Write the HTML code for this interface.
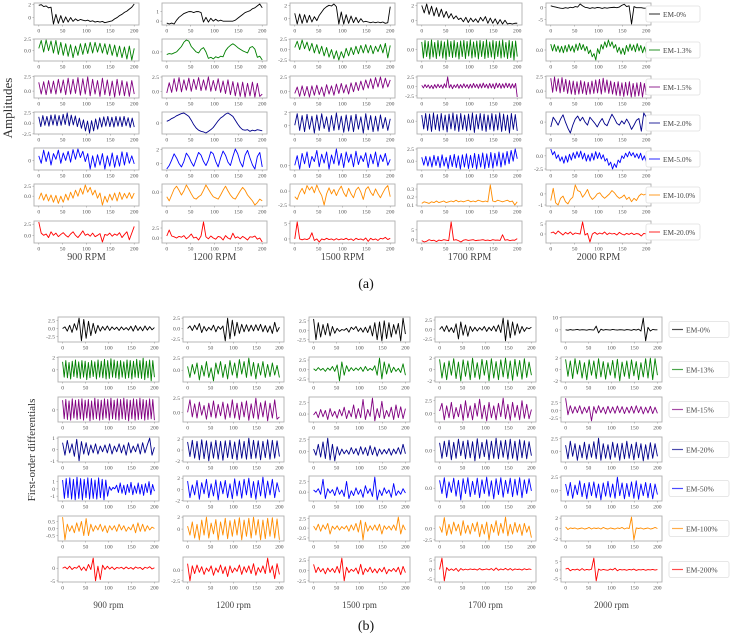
<!DOCTYPE html>
<html><head><meta charset="utf-8"><style>
html,body{margin:0;padding:0;background:#fff;}
svg{display:block;font-family:"Liberation Serif",serif;}
</style></head><body>
<svg id="fig" width="733" height="634" viewBox="0 0 733 634" xmlns="http://www.w3.org/2000/svg">
<text x="0" y="0" transform="translate(12,108) rotate(-90)" text-anchor="middle" font-size="13" fill="#333">Amplitudes</text>
<text x="0" y="0" transform="translate(35,450) rotate(-90)" text-anchor="middle" font-size="11" fill="#333">First-order differentials</text>
<text x="366" y="288" text-anchor="middle" font-size="14" fill="#111">(a)</text>
<text x="366" y="630" text-anchor="middle" font-size="14" fill="#111">(b)</text>
</svg>
<script>
const xTicks=[0,50,100,150,200];
const rpmLabelsA=["900 RPM","1200 RPM","1500 RPM","1700 RPM","2000 RPM"];
const rpmLabelsB=["900 rpm","1200 rpm","1500 rpm","1700 rpm","2000 rpm"];
const seriesNamesA=["EM-0%","EM-1.3%","EM-1.5%","EM-2.0%","EM-5.0%","EM-10.0%","EM-20.0%"];
const seriesNamesB=["EM-0%","EM-13%","EM-15%","EM-20%","EM-50%","EM-100%","EM-200%"];
const rowColors=["#000000","#008000","#800080","#00008b","#0000ff","#ff8c00","#ff0000"];

// ---- Panel (a) amplitudes, one array per subplot ----
const ampEM0=[
[1.9,2.0,1.7,1.8,1.5,1.6,-1.0,0.5,-0.9,0.3,-0.8,0.1,-0.7,0.0,-0.6,-0.2,-0.5,-0.3,-0.4,-0.5,-0.4,-0.6,-0.5,-0.7,-0.6,-0.7,-0.6,-0.8,-0.7,-0.6,-0.5,-0.2,0.0,0.3,0.5,0.8,1.0,1.3,1.6,2.1],
[-0.2,-0.3,-0.2,-0.3,0.1,0.4,0.6,0.8,0.9,1.0,1.0,0.9,1.0,1.0,0.9,-0.1,0.4,-0.1,0.3,0.0,0.2,0.0,0.1,0.0,0.0,0.0,0.0,0.0,0.1,0.3,0.5,0.7,0.9,1.0,1.1,1.3,1.4,1.6,1.8,1.4],
[0.8,-0.8,0.7,-0.7,0.6,-0.6,0.5,-0.5,0.3,-0.3,0.5,1.0,1.5,1.8,2.0,1.9,2.2,1.8,-0.8,1.0,-0.8,0.6,-0.7,0.4,-0.6,0.2,-0.6,0.0,-0.5,-0.4,-0.5,-0.6,-0.5,-0.6,-0.5,-0.6,-0.5,-0.7,-0.6,1.8],
[2.0,1.0,2.2,0.8,1.9,0.6,1.7,0.5,1.5,0.4,1.2,0.3,0.9,0.2,0.6,0.1,0.3,-0.2,0.4,-0.3,0.3,-0.2,0.2,-0.3,0.4,-0.1,0.5,-0.4,0.3,-0.4,0.2,-0.5,0.1,-0.5,0.0,-0.5,-0.4,-0.5,-0.4,-0.4],
[0.8,0.5,0.3,0.0,-0.2,-0.3,0.0,-0.2,0.2,0.0,0.5,0.3,1.6,0.8,0.2,0.0,-0.3,0.0,-0.2,0.1,0.0,-0.3,0.0,-0.2,0.0,0.1,0.2,0.0,0.3,1.0,1.5,0.5,0.8,-7.0,0.5,0.0,0.0,0.0,-0.2,-0.2]];
const ampEM13=[
[0.5,2.2,-0.3,2.3,0.0,2.1,-0.5,2.2,-0.8,1.8,-1.0,1.5,-1.2,1.3,-1.5,1.0,-1.0,1.5,-0.8,1.6,-0.6,1.8,-0.5,1.8,-0.3,1.6,-0.5,1.5,-0.8,1.4,-1.0,1.2,-1.3,1.0,-1.5,0.8,-1.8,1.0,-2.0,0.5],
[-0.5,-0.3,-0.4,-0.2,0.0,0.5,1.0,1.8,2.2,2.0,1.0,0.5,0.0,-0.2,0.5,0.8,0.0,-1.2,-1.0,-1.3,-0.9,-1.1,-0.8,-0.9,0.2,0.8,1.2,1.5,1.2,0.8,0.5,0.2,0.0,-0.2,0.8,1.0,0.5,-1.0,-0.8,-1.5],
[0.5,2.0,0.0,2.3,0.2,1.8,-0.3,1.5,-0.8,1.2,-1.0,0.8,-1.5,0.5,-1.8,0.0,-2.2,-0.3,-2.5,-0.5,-2.0,0.3,-1.5,0.5,-1.2,0.8,-1.0,1.0,-0.8,1.2,-0.8,1.0,-1.0,0.8,-0.5,1.2,-0.8,1.5,-2.0,1.0],
[1.5,-1.8,1.8,-1.5,1.6,-2.0,1.9,-1.6,1.4,-1.9,1.8,-1.4,1.7,-1.8,1.5,-2.1,1.9,-1.5,1.6,-1.7,1.8,-1.6,1.4,-2.0,1.7,-1.5,1.8,-1.9,1.6,-1.4,1.9,-1.8,1.5,-1.6,1.7,-2.0,1.8,-1.5,1.6,-1.9,1.9,-1.7,1.5,-1.6,1.8,-2.0,1.6,-1.5,1.7,-1.8,1.9,-1.6,1.4,-1.9,1.8,-1.7,1.6,-2.2,1.7,-1.5],
[1.3,-0.2,1.2,-0.3,0.9,-0.5,0.8,-0.6,1.0,-0.4,1.2,-0.2,0.9,-0.5,1.3,-0.1,1.5,0.1,1.2,-0.2,0.8,-0.8,0.0,-1.5,-0.8,-2.2,0.3,-0.8,1.2,0.2,1.8,0.6,2.2,0.8,1.8,0.4,1.2,-0.5,0.6,-0.9,0.4,-1.0,1.0,-0.3,1.3,-0.1,1.1,-0.4,1.4,-0.2,1.0,-0.6,0.7,-0.8]];
const ampEM15=[
[1.5,-0.5,1.6,-0.6,1.8,-0.4,1.7,-0.5,2.0,-0.3,1.9,-0.6,2.2,-0.5,2.0,-0.4,2.3,-0.7,2.1,-0.5,2.4,-0.8,2.0,-0.5,1.8,-0.9,2.2,-0.6,1.9,-0.8,1.7,-1.0,2.0,-0.7,1.8,-0.8,1.6,-0.9,1.8,-0.5],
[-0.3,1.5,-0.2,2.2,0.0,2.4,-0.1,2.0,0.2,2.3,0.0,2.1,0.3,2.4,0.1,2.0,0.2,2.5,0.0,1.9,0.1,2.2,-0.2,1.8,-0.4,2.0,-0.6,1.7,-0.8,1.5,-0.9,1.6,-1.0,1.4,-0.8,1.6,-1.0,1.4,-0.9,-0.5],
[-0.3,0.8,-0.8,1.0,-0.7,0.9,-0.9,1.0,-0.6,1.1,-0.5,0.8,-0.8,1.2,-0.4,1.0,-0.6,1.3,-0.3,1.4,-0.2,1.2,-0.4,1.5,0.0,1.6,0.2,1.8,0.3,2.0,0.6,2.2,0.5,2.4,0.8,2.5,0.6,2.3,0.8,2.0],
[0.3,-0.4,0.5,-0.3,0.4,-0.5,0.3,-0.6,0.5,-0.4,0.6,-0.3,0.4,-0.5,0.7,-0.3,2.5,-0.4,0.5,-0.6,0.4,-0.3,0.6,-0.5,0.5,-0.4,0.7,-0.3,0.5,-0.5,0.6,-0.4,0.8,-0.3,0.6,-0.5,0.7,-0.4,0.9,-0.3,0.6,-0.5,0.8,-0.4,0.7,-0.6,0.9,-0.3,0.8,-0.5,0.7,-0.4,0.9,-0.3,0.8,-0.5,0.7,-0.4,0.8,-2.8],
[2.2,-0.2,2.4,0.0,2.1,-0.3,2.3,-0.1,2.0,-0.4,1.8,-0.5,1.7,-0.6,1.6,-0.5,1.8,-0.4,1.6,-0.6,1.5,-0.5,1.7,-0.4,1.9,-0.3,2.0,-0.5,2.2,-0.2,1.9,-0.4,1.7,-0.5,1.5,-0.7,1.6,-0.8,1.4,-0.9,1.5,-0.7,1.6,-1.0,1.3,-0.9,1.4,-0.8,1.5,-1.0,1.3,-0.6]];
const ampEM20=[
[1.5,-0.8,1.8,-0.5,1.6,-0.7,1.9,-0.4,2.0,-0.6,1.8,-0.5,2.1,-0.3,2.4,-0.6,1.9,-0.4,1.7,-0.8,1.2,-1.2,0.8,-1.8,0.5,-2.3,0.6,-1.8,1.0,-1.4,1.3,-0.9,1.5,-0.7,1.6,-0.8,1.4,-0.9,1.6,-0.7,1.5,-0.8,1.6,-0.6,1.3,-1.0,1.2,-0.9],
[0.3,0.5,0.8,1.0,1.3,1.5,1.7,1.8,1.5,1.2,0.5,-0.3,-0.9,-1.3,-1.5,-1.6,-1.8,-1.5,-1.2,-0.8,-0.2,0.4,0.9,1.2,1.6,1.8,1.5,1.2,0.5,-0.2,-0.8,-1.2,-1.3,-1.2,-1.5,-1.3,-1.4,-1.2,-1.3,-1.4],
[0.0,1.8,-0.8,1.5,-1.0,1.7,-0.6,1.4,-1.2,1.6,-0.8,1.8,-0.5,1.3,-1.0,1.5,-0.8,1.9,-0.7,1.4,-1.1,1.6,-0.9,1.5,-1.0,1.7,-0.6,1.3,-1.2,1.8,-0.7,1.5,-1.0,1.4,-0.9,1.6,-0.5,1.2,-0.8,1.0],
[1.2,-1.5,1.5,-1.8,1.4,-2.0,1.6,-1.6,1.3,-1.9,1.5,-1.7,1.2,-2.1,1.4,-1.5,1.6,-1.8,1.3,-2.0,1.5,-1.6,1.2,-1.9,1.4,-1.7,1.6,-2.2,1.3,-1.5,1.5,-1.8,1.4,-2.0,1.2,-1.6,1.5,-1.9,1.3,-1.7,1.6,-2.0,1.4,-1.8,1.2,-2.3,1.5,-1.6,1.3,-1.9],
[-0.8,0.8,0.2,-0.5,0.5,1.2,0.0,-1.0,-1.8,-0.5,0.5,1.0,0.2,0.8,0.0,-0.5,0.8,0.3,-0.2,-0.8,0.0,0.6,-0.3,-0.6,0.4,1.3,0.6,-0.2,-0.5,0.2,-0.3,0.5,-0.2,-1.2,-0.5,0.3,0.6,-1.5,1.5,0.8]];
const ampEM50=[
[0.8,-0.5,1.8,-0.2,1.5,-0.8,1.2,0.2,1.8,-0.5,1.3,0.0,1.6,-0.3,1.9,0.2,2.0,0.5,1.6,-0.2,1.2,-1.5,0.8,-1.2,1.0,-0.8,1.2,-1.5,0.8,-1.0,1.3,-1.2,0.9,-1.0,1.5,-0.8,1.4,-0.5,0.8,-0.6],
[-0.8,-0.3,0.5,1.4,0.8,0.0,-0.5,0.3,1.5,1.0,0.2,-0.4,0.6,1.6,1.2,0.3,-0.3,0.5,1.7,1.4,0.3,-0.5,0.8,1.8,1.2,0.2,-0.3,1.0,2.1,1.4,0.2,-0.5,1.2,1.9,0.8,-0.2,-0.8,1.0,1.6,-0.5],
[0.0,1.3,-0.5,1.6,0.2,1.8,-0.3,1.2,0.5,2.0,-0.2,1.5,0.3,1.8,-0.5,1.4,0.2,2.2,0.0,1.6,-0.3,1.8,0.4,1.5,-0.2,1.9,0.1,1.3,0.5,1.7,-0.3,1.5,0.2,1.8,-0.2,1.4,0.5,1.6,0.0,0.8],
[0.8,-0.8,1.0,-1.0,0.9,-1.2,1.2,-0.9,1.0,-1.3,1.3,-1.0,0.8,-1.5,1.2,-1.1,1.4,-1.3,1.1,-1.6,1.3,-1.2,1.5,-1.5,1.2,-1.3,1.6,-1.6,1.4,-1.2,1.7,-1.5,1.5,-1.3,1.8,-1.4,1.6,-1.0,1.9,-1.2,1.7,-0.8,2.0,-0.5,2.2,0.0,2.5,0.5],
[1.3,0.2,0.8,-0.5,0.2,-1.0,-0.2,-1.4,0.0,-1.2,0.3,-0.8,0.6,-0.5,0.8,-0.3,0.9,-0.6,0.5,-1.0,0.2,-1.0,0.5,-0.8,0.8,-0.5,0.6,-0.6,0.2,-1.0,-0.5,-1.8,-1.2,-2.5,-1.5,-2.2,-0.8,-1.3,0.0,-0.5,0.5,-0.2,0.8,0.0,0.6,-0.3,0.4,-0.5,0.5,-0.8,0.0,-1.2]];
const ampEM100=[
[-0.8,0.8,-1.0,0.5,-1.2,0.3,-1.5,0.2,-1.8,0.0,-1.5,0.5,-1.0,1.0,-0.5,1.5,0.0,2.0,0.5,2.8,1.0,2.2,0.3,1.5,-0.5,0.8,-2.2,0.0,-1.5,0.5,-1.0,0.8,-1.2,1.0,-0.8,0.7,-0.5,0.9,-0.6,0.8],
[-0.8,-1.5,-0.5,0.5,1.0,0.3,-0.5,0.2,1.2,0.5,-0.3,-1.0,-1.2,-0.8,-0.5,0.3,1.2,0.5,-0.2,-0.8,-1.0,-1.2,-0.5,0.3,1.0,0.2,-0.5,-1.0,-1.2,-0.5,0.2,0.8,0.3,-0.5,-1.0,-1.5,-2.2,-1.8,-1.2,-1.5],
[-1.0,-1.5,-0.3,0.5,-0.5,1.0,0.2,0.8,-0.3,1.1,0.0,-0.8,-2.5,-0.5,0.6,-0.5,0.3,-0.8,0.2,0.9,-0.3,-1.0,0.5,-0.5,-1.2,0.2,0.7,-0.2,-1.5,0.3,0.8,-0.2,-0.8,0.4,-0.5,-1.2,-0.3,0.5,1.0,-1.0],
[0.12,0.14,0.13,0.12,0.14,0.13,0.15,0.13,0.14,0.15,0.13,0.14,0.15,0.14,0.16,0.14,0.15,0.14,0.15,0.16,0.14,0.15,0.14,0.16,0.15,0.14,0.15,0.14,0.35,0.15,0.14,0.16,0.15,0.14,0.15,0.16,0.14,0.15,0.10,0.14],
[-0.6,0.5,-0.8,-1.0,-0.4,-0.2,-0.7,-0.9,-0.5,-0.3,0.8,0.3,0.2,-0.3,0.0,0.4,-0.2,-0.5,-0.3,0.0,0.1,-0.2,-0.4,-0.2,0.0,0.3,0.1,-0.2,-0.4,-0.3,-0.1,-0.5,-0.3,-0.7,-0.4,-0.6,-0.2,0.0,-0.1,0.0]];
const ampEM200=[
[3.0,0.5,0.0,0.3,-0.5,0.8,0.0,0.5,-0.3,0.2,0.6,0.0,-0.4,0.3,0.8,0.0,-0.5,0.2,1.0,0.0,0.3,-0.2,0.5,-0.3,0.0,0.4,-1.5,0.2,0.0,0.5,-0.2,0.3,0.0,0.6,-0.5,0.2,0.8,-1.0,0.5,2.0],
[0.5,2.0,0.5,0.3,0.0,0.4,0.2,0.6,-0.2,0.3,1.0,0.0,0.2,-0.5,0.5,4.0,0.3,-0.2,0.5,0.0,-0.3,0.4,0.2,-0.5,0.6,0.0,-0.3,1.2,0.0,0.3,-0.2,0.4,0.0,-0.5,0.3,0.2,0.5,-0.3,0.0,-1.0],
[0.0,5.5,0.0,-0.3,0.0,-0.2,0.2,2.0,-0.5,0.0,-1.0,0.0,-0.3,0.2,-0.2,0.0,-0.4,0.1,-0.3,0.0,-0.2,0.2,-0.3,0.0,-0.5,0.2,-0.2,0.0,-0.4,0.3,-0.8,0.2,-0.3,0.0,-0.5,0.2,0.0,0.5,-0.2,0.2],
[-0.5,-1.2,-0.8,0.0,-0.5,-0.3,-1.0,-0.2,-0.5,0.0,-0.3,-0.5,9.0,-0.3,0.0,-0.5,-1.2,-0.3,0.0,-0.4,-0.2,0.0,-0.5,-0.3,-0.2,0.0,-0.4,-0.2,-0.5,0.0,-0.3,-0.2,-0.4,2.5,-0.3,0.0,-0.5,-0.2,-0.3,0.5],
[0.5,1.0,0.0,1.5,0.5,-0.5,0.8,0.0,1.0,-0.3,0.5,0.2,0.0,6.0,-0.5,0.3,-4.0,0.0,0.8,-0.2,0.5,0.0,1.0,-0.3,0.5,0.0,0.3,-0.5,0.8,0.0,-0.5,0.3,-0.2,0.5,-0.3,0.2,0.0,-1.0,0.3,0.0]];
const ampTicks=[
[[0,2],[0,1],[0,2],[0,2],[0,-5]],
[[2.5,0],[2.5,0],[2.5,0,-2.5],[0,-2.5],[2.5,0,-2.5]],
[[2.5,0],[2.5,0],[2.5,0],[2.5,0,-2.5],[2.5,0]],
[[2.5,0,-2.5],[2,0,-2],[2,0,-2],[0,-2.5],[0,-2]],
[[0,-2],[2,0],[2.5,0],[2.5,0],[0,-2.5]],
[[2.5,0,-2.5],[0,-2.5],[0,-2.5],[0.3,0.2,0.1],[0,-1]],
[[2.5,0],[2.5,0,-2.5],[5,0],[5,0],[5,0,-5]]];

// ---- Panel (b) first-order differentials ----
const difEM0=[
[0.0,0.5,-0.8,1.0,-1.2,1.5,-0.5,3.2,-3.8,2.8,-3.0,2.2,-2.2,1.6,-1.5,1.0,-0.8,0.6,-0.5,0.8,-0.6,0.5,-0.3,0.4,-0.6,0.5,-0.4,0.3,-0.5,0.7,-0.8,0.9,-0.6,0.5,-0.7,0.8,-0.5,0.6,-0.4,0.3],
[0.0,0.6,-0.5,0.8,-0.3,1.2,-1.0,0.5,-0.6,0.3,-0.4,0.8,-0.8,0.5,-0.2,0.6,-3.0,2.5,-2.5,2.0,-1.8,1.5,-1.2,1.0,-0.8,0.9,-0.7,0.8,-0.6,0.9,-0.5,1.0,-0.8,0.7,-0.9,0.6,-1.2,1.5,-0.8,0.3],
[3.0,-2.5,2.0,-1.8,1.5,-1.2,1.8,-1.5,1.0,-0.8,0.5,-0.3,0.2,0.0,0.5,-0.5,0.8,0.2,1.0,-0.3,0.6,-0.5,0.8,-0.6,1.2,-1.5,2.0,-2.5,2.2,-2.8,2.5,-2.2,2.0,-1.8,1.5,-1.0,1.8,-2.8,3.2,-1.0],
[0.0,0.8,-0.5,1.0,-0.6,0.5,-0.8,1.5,-2.5,2.0,-1.5,1.2,-1.8,0.8,-0.5,0.6,-0.4,0.5,-0.2,0.8,-0.5,0.6,-0.3,0.9,-0.5,1.2,-0.8,3.0,-3.0,2.5,-2.2,2.0,-1.5,1.5,-1.0,0.8,-0.5,0.5,0.2,0.6],
[0.0,-0.3,0.2,-0.2,0.0,0.3,-0.2,0.1,0.0,-0.3,0.2,0.0,-0.2,3.0,-2.5,0.5,-0.3,0.2,0.0,-0.2,0.3,0.0,-0.2,0.1,0.0,-0.3,0.2,0.0,-0.4,0.3,-0.2,0.5,-1.0,9.5,-9.0,2.0,-1.0,0.3,0.0,0.0]];
const difEM13=[
[1.3,-1.2,1.5,-1.3,1.2,-1.5,1.4,-1.1,1.6,-1.3,1.3,-1.4,1.5,-1.2,1.4,-1.6,1.2,-1.3,1.5,-1.1,1.3,-1.5,1.6,-1.2,1.4,-1.3,1.7,-1.5,1.5,-1.4,1.8,-1.2,1.6,-1.3,1.4,-1.5,1.5,-1.2,1.3,-1.4,1.6,-1.3,1.5,-1.5,1.4,-1.2,1.7,-1.3,1.5,-1.4,1.9,-1.6,1.4,-1.3,1.6,-1.8,1.5,-1.2],
[0.8,-1.5,1.2,-0.8,1.5,-2.0,1.0,-1.2,1.8,-1.5,0.5,-2.2,1.5,-0.8,1.8,-1.5,1.2,-1.8,2.0,-1.0,1.5,-1.6,2.2,-0.8,1.8,-1.5,2.5,-1.2,1.6,-1.8,1.4,-1.0,1.8,-1.5,1.2,-1.3,1.5,-1.0,1.0,-1.5],
[0.2,-0.3,0.5,-0.2,0.3,-0.5,0.4,-0.2,0.8,-0.5,1.2,-3.0,2.0,-1.5,1.0,-0.5,0.5,-0.3,0.4,-0.2,0.6,-0.5,0.8,-0.3,0.3,-0.2,1.0,-1.5,3.0,-2.5,2.0,-1.2,1.5,-0.8,0.6,-0.5,0.3,-0.8,1.5,-1.5],
[1.8,-1.5,1.2,-1.8,1.5,-1.0,1.9,-1.6,1.3,-2.0,1.7,-1.2,1.5,-1.8,2.0,-1.4,1.2,-1.7,1.8,-1.0,1.6,-2.0,1.9,-1.5,1.4,-1.8,1.7,-1.3,2.0,-1.6,1.5,-1.9,1.8,-1.2,1.6,-1.7,1.9,-1.4,1.3,-1.0],
[1.8,-1.2,1.5,-1.6,1.9,-0.8,1.6,-1.5,1.2,-1.8,1.7,-1.0,1.5,-1.6,1.9,-1.3,1.4,-1.7,1.2,-1.0,1.6,-1.5,1.8,-2.0,1.3,-1.2,1.5,-1.6,1.7,-1.1,1.4,-1.8,1.2,-1.3,1.9,-1.5,2.0,-1.8,1.9,-1.0]];
const difEM15=[
[1.4,-1.3,1.5,-1.4,1.3,-1.5,1.6,-1.2,1.4,-1.4,1.5,-1.3,1.6,-1.5,1.4,-1.2,1.5,-1.6,1.3,-1.4,1.7,-1.3,1.5,-1.5,1.4,-1.4,1.6,-1.2,1.5,-1.5,1.7,-1.3,1.4,-1.4,1.6,-1.5,1.5,-1.3,1.7,-1.4,1.5,-1.6,1.4,-1.3,1.6,-1.5,1.5,-1.4,1.7,-1.3,1.5,-1.5,1.4,-1.4,1.6,-1.3,1.5,-1.5],
[0.0,2.2,-0.8,1.5,-1.0,1.8,-0.5,1.2,-1.2,1.6,-0.8,2.0,-1.0,1.4,-0.6,1.8,-1.2,1.5,-0.9,2.2,-1.0,1.6,-1.3,1.8,-0.8,2.0,-1.4,1.5,-1.0,2.5,-1.2,1.7,-0.8,2.0,-1.5,1.6,-1.0,2.2,-1.2,-0.8],
[-0.2,0.5,-0.8,1.0,-0.6,0.8,-1.2,1.2,-0.5,0.6,-0.9,1.0,-0.4,1.5,-1.0,0.8,-0.6,2.0,-1.0,1.2,-0.8,3.2,-1.2,1.0,-0.5,3.5,-1.5,1.2,-0.8,2.8,-1.0,0.8,-0.6,1.5,-1.2,2.0,-0.8,1.6,-1.0,1.2],
[0.5,2.0,-1.2,1.5,-0.8,2.2,-1.0,1.2,-0.6,1.8,-1.3,2.5,-0.8,1.5,-1.2,2.0,-0.5,2.8,-1.0,1.6,-1.4,2.2,-0.8,1.5,-1.2,2.0,-0.6,3.0,-1.0,1.8,-1.3,2.2,-0.7,1.6,-1.2,2.5,-0.9,1.8,-1.0,0.8],
[4.0,-1.5,1.5,-1.0,1.2,-0.8,1.5,-1.2,1.0,-0.8,1.3,-3.5,1.2,-1.0,1.5,-0.8,1.0,-1.2,1.3,-0.9,1.1,-1.0,1.4,-0.8,1.2,-1.1,1.0,-0.9,1.3,-1.0,1.5,-0.8,1.2,-1.2,1.0,-0.9,1.3,-1.1,1.0,-1.0]];
const difEM20=[
[0.6,-0.5,0.8,-0.3,0.5,-0.6,0.9,-1.0,0.7,-0.4,0.6,-0.5,0.4,-0.3,0.5,-0.4,0.3,-0.2,0.4,-0.3,0.5,-0.4,0.3,-0.2,0.5,-0.3,0.4,-0.5,0.6,-0.3,0.3,-0.2,0.5,-0.4,0.6,-0.3,0.4,1.0,-0.5,0.2],
[1.5,-1.2,1.8,-1.5,1.6,-1.8,1.9,-1.6,1.7,-2.0,1.5,-1.5,1.8,-1.7,1.6,-1.9,1.7,-1.4,1.8,-1.6,1.5,-1.8,1.9,-1.5,1.6,-1.7,2.2,-1.6,1.8,-1.5,1.7,-1.8,1.6,-1.4,1.9,-1.7,1.8,-1.5,1.7,-1.2],
[0.5,-0.8,1.5,-1.2,2.0,-1.5,2.8,-1.8,1.5,-2.0,1.0,-0.8,0.5,-0.5,0.3,-0.6,0.8,-0.5,0.6,-0.8,1.0,-0.6,0.8,-0.9,1.2,-0.7,0.9,-1.0,0.5,-0.6,0.4,-0.5,0.6,-0.8,0.5,-0.5,0.8,-0.6,1.5,-0.5],
[1.5,-1.5,1.8,-1.2,2.0,-1.8,1.6,-1.5,2.2,-1.0,1.8,-1.6,2.0,-1.4,1.7,-2.0,2.3,-1.5,1.6,-1.2,2.1,-1.8,1.8,-1.5,2.4,-1.6,1.9,-1.3,2.0,-1.7,2.2,-1.5,1.8,-1.9,2.1,-1.4,1.9,-1.6,1.7,-1.0],
[1.2,-1.5,2.0,-1.0,1.5,-1.8,1.2,-1.3,1.8,-1.6,1.4,-1.2,1.9,-1.5,2.6,-1.8,1.5,-1.4,1.3,-1.6,1.8,-1.2,1.5,-1.8,1.6,-1.5,2.0,-1.4,1.4,-1.7,1.8,-1.3,1.5,-1.9,1.3,-1.6,1.7,-1.4,1.5,-1.0]];
const difEM50=[
[1.2,-1.3,1.4,-1.2,1.5,-1.4,1.3,-1.5,1.6,-1.3,1.4,-1.5,1.3,-1.2,1.5,-1.4,1.4,-1.3,1.2,-1.4,1.5,-1.2,1.3,-1.5,1.2,-1.0,0.3,-0.2,0.2,0.0,0.5,-0.5,0.8,-0.6,0.5,-0.8,0.6,-0.5,0.9,-0.8,0.4,-0.6,0.8,-0.7,0.6,-0.9,0.7,-0.5,1.0,-0.8,0.6,-0.3],
[1.5,-1.5,0.8,-1.0,1.6,-1.8,1.2,-0.8,1.8,-1.5,1.0,-1.2,1.7,-1.9,1.4,-0.8,1.6,-1.5,1.0,-1.7,1.9,-1.2,1.5,-1.6,1.8,-1.0,2.0,-1.5,1.4,-1.8,1.6,-1.2,2.2,-1.6,1.5,-1.0,1.8,-1.5,1.2,-0.5],
[0.5,0.0,0.8,-0.5,3.0,-1.5,0.8,-0.2,0.6,-0.8,1.2,-0.5,0.5,-1.0,2.5,-1.5,0.3,-0.8,1.0,-0.5,0.6,-1.2,1.5,-0.3,0.8,-1.0,3.5,-1.8,0.5,-0.8,1.0,-0.3,0.5,-1.2,2.0,-0.8,0.3,-0.5,0.8,-0.2],
[1.5,-1.0,2.0,-1.8,1.2,-0.8,1.9,-1.5,1.5,-2.2,1.8,-1.0,2.0,-1.6,1.3,-1.2,1.9,-1.8,1.6,-1.0,2.1,-1.5,1.4,-2.0,1.8,-1.2,2.0,-1.7,1.5,-1.0,1.9,-1.6,1.7,-1.3,2.0,-1.8,1.6,-1.0,1.8,-0.5],
[1.2,-1.0,1.5,-1.5,1.0,-0.8,1.8,-1.2,1.3,-1.6,1.5,-1.0,1.6,-1.4,1.2,-1.8,1.4,-1.1,1.7,-1.3,1.2,-1.5,2.5,-1.0,1.4,-1.6,1.3,-1.2,1.6,-1.5,1.8,-1.7,1.2,-1.0,1.5,-1.4,1.3,-1.6,1.2,-0.8]];
const difEM100=[
[0.8,-0.8,0.3,-0.2,0.2,-0.3,0.4,-0.2,0.5,-0.5,0.7,-0.5,0.3,-0.2,0.2,-0.1,0.3,-0.2,0.2,-0.3,0.2,-0.1,0.2,-0.2,0.3,-0.1,0.2,-0.2,0.1,-0.1,0.3,-0.3,0.4,-0.2,0.3,-0.2,0.2,-0.1,0.1,0.0],
[0.5,-1.0,1.2,-1.5,0.8,-1.8,1.5,-1.0,2.0,-1.5,1.0,-0.8,1.6,-1.8,1.2,-1.0,1.8,-1.6,1.4,-1.2,1.6,-1.0,1.9,-1.8,1.5,-1.2,1.8,-1.5,2.0,-1.0,1.6,-1.8,1.5,-1.6,1.8,-1.2,1.9,-1.5,1.7,-1.8],
[0.5,-0.5,1.0,-0.8,0.8,-0.3,1.2,-1.5,0.5,-0.3,0.6,-0.5,0.4,-0.2,0.6,-0.8,0.8,-0.5,1.2,-1.0,2.0,-3.0,1.5,-0.8,0.6,-0.5,0.8,-0.6,1.0,-1.5,0.6,-0.3,0.5,-0.5,0.8,-0.6,2.8,-1.5,0.8,-0.5],
[0.5,-0.8,2.5,-1.5,1.0,-1.2,1.5,-0.5,1.0,-1.5,1.8,-1.0,0.8,-1.2,1.2,-0.6,1.5,-1.8,1.0,-1.2,1.5,-2.5,1.0,-0.8,1.8,-1.5,1.2,-1.0,2.6,-1.6,1.0,-1.2,1.4,-0.8,1.0,-1.5,1.2,-0.8,0.6,-2.0],
[0.3,-0.2,0.1,0.0,0.1,-0.1,0.0,0.1,-0.1,0.0,0.2,-0.1,0.1,0.0,0.1,-0.1,0.2,0.0,-0.1,0.1,0.0,-0.1,0.1,0.0,0.2,-0.1,0.1,0.0,2.2,-2.2,0.1,0.0,0.1,-0.1,0.0,0.1,-0.1,0.0,0.2,0.0]];
const difEM200=[
[0.0,0.5,-0.3,0.8,-0.5,0.3,0.0,1.0,-0.8,0.5,-1.0,1.5,-0.5,4.0,-5.0,0.8,-4.5,1.2,-0.5,0.8,-0.3,0.5,-0.5,0.3,0.0,0.4,-0.3,0.5,-0.2,0.3,-0.4,0.5,0.0,0.3,-0.5,0.4,0.0,0.6,-0.3,0.2],
[1.5,-2.5,1.0,-0.8,1.2,-0.5,0.8,-1.0,0.5,-0.3,1.0,-1.2,0.5,-0.5,1.2,-0.8,0.8,-1.5,1.0,-0.6,0.5,-0.3,1.2,-1.0,0.8,-0.5,1.0,-0.8,1.5,-1.2,0.6,-0.5,1.0,-0.8,2.8,-0.6,1.0,-2.0,1.5,-1.0],
[1.5,-0.5,0.8,-0.3,0.5,-0.8,0.6,-0.3,0.5,-0.5,1.0,-0.6,3.0,-2.5,0.8,-0.5,0.3,-0.2,0.6,-0.8,1.5,-1.0,0.5,-0.3,0.8,-0.5,0.4,-0.6,0.5,-0.3,0.8,-0.8,0.3,-0.2,0.5,-0.3,0.8,-1.0,1.0,-0.5],
[0.0,6.0,-6.0,1.0,-0.5,0.3,-0.5,0.6,-1.0,0.5,-0.3,0.2,-0.2,0.3,0.0,0.2,-0.3,0.5,-0.2,0.0,0.3,-0.2,0.5,-0.5,0.8,-0.4,0.3,-0.2,0.6,-0.3,0.5,-0.4,0.3,0.0,0.2,-0.3,0.4,-0.1,0.3,0.0],
[0.5,1.0,-0.5,0.3,0.0,0.5,-0.3,0.8,-0.2,0.3,0.0,0.4,7.0,-6.5,0.5,-0.2,0.3,0.0,-0.2,0.5,0.0,1.0,-0.5,0.3,0.0,0.2,-0.2,0.3,0.0,0.5,-0.3,0.2,0.0,0.3,-0.2,0.2,0.0,0.3,-0.1,0.2]];
const difTicks=[
[[2.5,0,-2.5],[2.5,0,-2.5],[2.5,0,-2.5],[2.5,0,-2.5],[10,0]],
[[2,0,-2],[2.5,0,-2.5],[2.5,0,-2.5],[2,0,-2],[2,0,-2]],
[[2,0,-2],[2.5,0],[2.5,0],[2.5,0],[2.5,0,-2.5]],
[[1,0,-1],[2,0,-2],[2.5,0,-2.5],[0,-2.5],[2.5,0]],
[[1,0,-1],[2,0,-2],[2.5,0,-2.5],[0,-2.5],[2.5,0]],
[[0.5,0,-0.5],[2,0,-2],[2.5,0,-2.5],[0,-2.5],[2,0,-2]],
[[0,-5],[0,-2.5],[2.5,0,-2.5],[5,0,-5],[5,0,-5]]];

const ampRows=[ampEM0,ampEM13,ampEM15,ampEM20,ampEM50,ampEM100,ampEM200];
const difRows=[difEM0,difEM13,difEM15,difEM20,difEM50,difEM100,difEM200];

const NS="http://www.w3.org/2000/svg";
const svg=document.getElementById('fig');
function mk(tag,attrs,parent){const e=document.createElementNS(NS,tag);for(const k in attrs)e.setAttribute(k,attrs[k]);(parent||svg).appendChild(e);return e;}
function fmt(t){ if(Number.isInteger(t)&&Math.abs(t)>=1&&!String(t).includes('.')) return String(t); return String(t);}

function drawPanel(rows,ticks,cfg,names,rpms,pid){
  for(let r=0;r<7;r++){
    for(let c=0;c<5;c++){
      const vals=rows[r][c];
      const x0=cfg.xs[c], y0=cfg.ys[r], w=cfg.w, h=cfg.h;
      let mn=Math.min(...vals), mx=Math.max(...vals);
      const pad=(mx-mn)*0.05||0.1; mn-=pad; mx+=pad;
      const sx=v=>x0+(v+10)/220*w;
      const sy=v=>y0+h-(v-mn)/(mx-mn)*h;
      const g=mk('g',{});
      
      
      const frame=mk('rect',{x:x0,y:y0,width:w,height:h,fill:'#fff',stroke:'#b0b0b0','stroke-width':0.9},g);
      
      
      const pts=vals.map((v,i)=>sx(i/(vals.length-1)*200).toFixed(2)+','+sy(v).toFixed(2)).join(' ');
      const line=mk('polyline',{points:pts,fill:'none',stroke:rowColors[r],'stroke-width':0.9,'stroke-linejoin':'round'},g);
      
      
      xTicks.forEach(t=>{
        const lbl=mk('text',{x:sx(t),y:y0+h+7.5,'text-anchor':'middle','font-size':cfg.fs,fill:'#555'},g);
        lbl.textContent=t;
        
        
        mk('line',{x1:sx(t),x2:sx(t),y1:y0+h,y2:y0+h+1.5,stroke:'#999','stroke-width':0.6},g);
      });
      ticks[r][c].forEach(t=>{
        if(t<mn||t>mx) return;
        const lbl=mk('text',{x:x0-3,y:sy(t)+2,'text-anchor':'end','font-size':cfg.fs,fill:'#555'},g);
        lbl.textContent=(Math.abs(t)%1!==0||[2.5,-2.5,0.5,-0.5].includes(t)||(ticks[r][c].some(q=>q%1!==0)&&t===0))?t.toFixed(1):String(t);
        
        
        mk('line',{x1:x0-1.5,x2:x0,y1:sy(t),y2:sy(t),stroke:'#999','stroke-width':0.6},g);
      });
    }
    // legend
    const cy=cfg.ys[r]+cfg.h/2;
    const lg=mk('g',{});
    
    
    mk('rect',{x:cfg.lx,y:cy-8,width:cfg.lw,height:16,fill:'#fff',stroke:'#e0e0e0','stroke-width':0.8,rx:2},lg);
    mk('line',{x1:cfg.lx+3,x2:cfg.lx+14,y1:cy,y2:cy,stroke:rowColors[r],'stroke-width':1.2,opacity:0.7},lg);
    const lt=mk('text',{x:cfg.lx+17,y:cy+2.8,'font-size':cfg.lfs,fill:'#444'},lg);
    lt.textContent=names[r];
    
    
  }
  for(let c=0;c<5;c++){
    const t=mk('text',{x:cfg.xs[c]+cfg.w/2,y:cfg.labY,'text-anchor':'middle','font-size':cfg.cfs,fill:'#444'});
    t.textContent=rpms[c];
    
    
  }
}
drawPanel(ampRows,ampTicks,{xs:[34,162,290,417,546],ys:[3,39,76,112,148,184,221],w:105,h:22,fs:5.6,lx:646,lw:54,lfs:7.3,cfs:10,labY:260},seriesNamesA,rpmLabelsA,'panel-a');
drawPanel(difRows,difTicks,{xs:[58,183,309,435,561],ys:[317,357,397,437,476,516,557],w:101,h:25,fs:5.6,lx:669,lw:60,lfs:7.6,cfs:9,labY:608},seriesNamesB,rpmLabelsB,'panel-b');
</script>
</body></html>
